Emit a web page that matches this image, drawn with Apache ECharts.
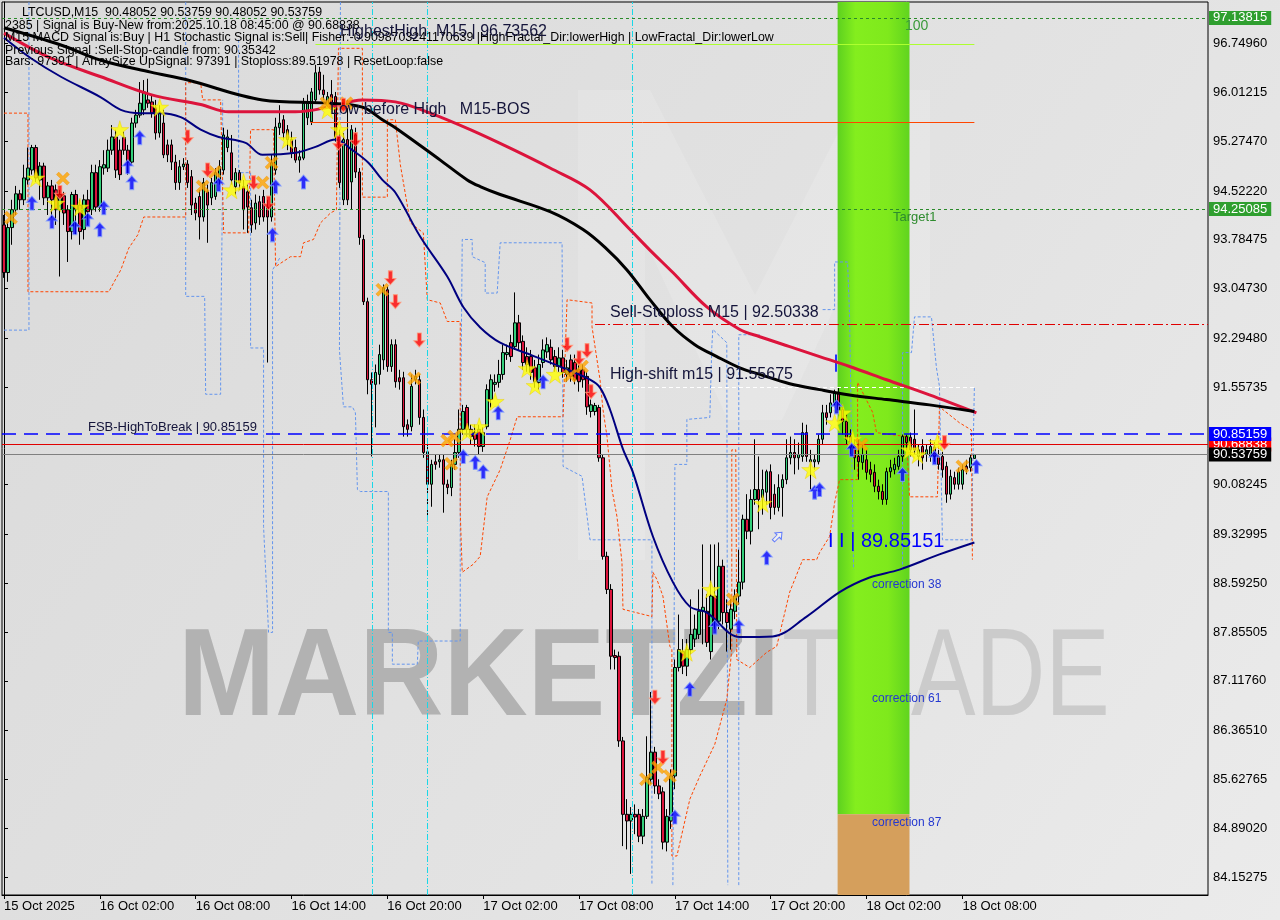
<!DOCTYPE html>
<html><head><meta charset="utf-8">
<script src="https://cdn.jsdelivr.net/npm/echarts@6/dist/echarts.min.js"></script>
<style>html,body{margin:0;padding:0;background:#e0e0e0}#c{width:1280px;height:920px}</style>
</head><body><div id="c"></div><script>
// ---------------- DATA ----------------
const SLOTS = 302;               // candle slots on the time axis (incl. empty future space)
const tickEvery = 24;            // one time label every 6 hours (24 x M15)
const timeLabels = ["15 Oct 2025","16 Oct 02:00","16 Oct 08:00","16 Oct 14:00","16 Oct 20:00","17 Oct 02:00","17 Oct 08:00","17 Oct 14:00","17 Oct 20:00","18 Oct 02:00","18 Oct 08:00"];
const priceTicks = [84.15275,84.89020,85.62765,86.36510,87.11760,87.85505,88.59250,89.32995,90.08245,91.55735,92.29480,93.04730,93.78475,94.52220,95.27470,96.01215,96.74960];
const yMin = 83.8807, yMax = 97.38;

// candles: [open, close, low, high]
const ohlc = [
[94.01,93.29,93.21,94.16],[93.29,93.97,93.15,94.06],[93.97,94.24,93.71,94.39],[94.24,94.48,94.16,94.60],[94.48,94.39,94.24,94.54],
[94.39,94.72,94.31,94.92],[94.69,94.87,94.62,95.18],[94.84,95.18,94.77,95.22],[95.18,94.72,94.66,95.22],[94.69,94.90,94.39,94.96],
[94.90,94.42,94.31,94.95],[94.42,94.60,94.16,94.66],[94.60,94.39,94.12,94.69],[94.54,94.24,94.01,94.62],[94.24,94.47,93.23,94.54],
[94.45,94.19,94.01,94.51],[94.24,93.91,93.45,94.31],[93.91,94.47,93.79,94.51],[94.47,94.24,93.86,94.54],[94.31,93.91,93.71,94.39],
[93.94,94.39,93.79,94.47],[94.39,94.21,94.01,94.54],[94.24,94.80,94.16,94.92],[94.80,94.28,94.21,94.92],[94.28,94.89,94.21,94.99],
[94.87,94.92,94.77,95.14],[94.87,95.14,94.81,95.30],[95.14,95.34,95.07,95.52],[95.34,94.84,94.72,95.45],[95.14,94.77,94.69,95.30],
[95.33,95.14,95.07,95.42],[95.14,94.96,94.77,95.22],[94.96,95.55,94.92,95.63],[95.55,95.67,95.48,95.75],[95.67,95.85,95.63,96.17],
[95.75,96.02,95.67,96.20],[95.90,95.85,95.78,96.22],[95.87,95.70,95.63,95.96],[95.78,95.40,95.30,95.90],[95.40,95.72,95.33,95.82],
[95.55,95.07,95.02,95.75],[95.22,95.07,94.96,95.30],[95.22,94.96,94.84,95.30],[94.96,94.65,94.54,95.07],[94.65,94.89,94.54,94.99],
[94.89,94.93,94.84,95.02],[94.93,94.65,94.57,94.99],[94.74,94.31,94.16,94.84],[94.34,94.19,94.08,94.42],[94.44,94.13,93.79,94.54],
[94.13,94.65,94.06,94.72],[94.51,94.31,93.74,94.62],[94.42,94.65,94.31,94.72],[94.44,94.80,94.39,94.87],[94.69,94.89,94.62,94.99],
[94.84,95.37,94.77,95.48],[95.18,95.34,95.11,95.45],[95.10,94.69,94.62,95.37],[94.59,94.80,94.47,94.87],[94.80,94.65,94.54,94.84],
[94.59,94.24,93.94,94.69],[94.51,94.28,93.89,94.62],[94.27,94.01,93.89,94.39],[94.04,94.34,93.94,94.47],[94.36,94.13,94.01,94.45],
[94.44,94.13,94.06,94.54],[94.28,94.13,91.93,94.39],[94.13,94.95,94.06,95.07],[94.84,95.49,94.77,95.63],[95.48,95.55,95.37,95.82],
[95.60,95.40,95.30,95.67],[95.45,95.30,95.14,95.52],[95.30,95.10,95.02,95.42],[95.18,94.99,94.95,95.30],[94.99,95.04,94.80,95.14],
[95.02,95.85,94.99,95.93],[95.63,95.85,95.52,95.98],[95.57,96.02,95.52,96.08],[95.90,96.31,95.84,96.43],[96.32,96.05,95.98,96.40],
[96.05,95.98,95.90,96.28],[95.82,95.95,95.78,96.02],[95.98,95.80,95.75,96.20],[95.95,95.34,95.27,96.02],[95.34,94.65,94.57,95.45],
[94.39,95.30,94.31,95.40],[95.30,94.39,94.31,95.90],[94.66,95.45,94.24,95.52],[95.37,94.81,94.72,95.48],[94.81,93.82,93.71,94.87],
[93.79,92.85,92.80,93.86],[92.85,91.67,91.45,92.91],[91.67,91.60,90.51,91.78],[91.60,91.78,90.95,91.90],[91.75,92.05,91.60,92.20],
[91.97,93.06,91.82,93.11],[93.03,91.87,91.79,93.08],[91.87,92.20,91.79,92.28],[92.20,91.64,91.55,92.28],[91.70,91.64,91.52,91.82],
[91.70,90.96,90.81,91.79],[90.99,90.92,90.81,91.07],[90.96,91.57,90.89,91.75],[91.67,91.72,91.60,91.82],[91.67,91.10,90.99,91.75],
[91.10,90.57,90.49,91.22],[90.58,90.09,89.53,90.69],[90.09,90.39,89.75,90.46],[90.43,90.39,90.31,90.54],[90.43,90.46,90.34,90.54],
[90.46,90.09,89.66,90.54],[90.09,90.04,89.94,90.16],[90.04,90.39,89.91,90.46],[90.39,90.57,90.31,90.77],[90.57,90.92,90.49,91.22],
[90.92,91.19,90.84,91.29],[91.25,90.92,90.81,91.29],[90.92,90.81,90.69,90.99],[90.87,90.77,90.66,90.99],[90.92,90.66,90.54,90.99],
[90.66,90.87,90.58,90.95],[90.96,91.52,90.92,91.60],[91.37,91.67,91.25,91.75],[91.60,91.63,91.49,91.75],[91.63,91.75,91.55,91.97],
[91.75,92.08,91.67,92.20],[92.05,92.08,91.97,92.20],[92.23,92.02,91.94,92.35],[92.17,92.53,92.12,92.99],[92.53,92.23,92.12,92.65],
[92.25,91.93,91.82,92.34],[92.02,91.90,91.79,92.16],[92.02,91.78,91.67,92.12],[91.85,91.64,91.55,91.97],[91.63,91.90,91.52,92.05],
[91.93,92.12,91.85,92.28],[92.09,92.20,92.00,92.31],[92.16,91.97,91.90,92.28],[92.02,91.87,91.79,92.12],[91.87,92.00,91.79,92.16],
[92.00,91.78,91.70,92.12],[91.75,91.85,91.64,91.97],[91.97,91.72,91.64,92.05],[91.93,91.67,91.60,92.05],[91.82,91.64,91.49,91.90],
[91.82,91.67,91.55,91.90],[91.72,91.26,91.14,91.79],[91.19,91.29,91.10,91.37],[91.19,91.28,91.13,91.32],[91.25,90.49,90.43,91.29],
[90.49,89.00,88.95,90.54],[89.00,88.50,88.43,89.07],[88.50,87.49,87.29,88.58],[87.50,87.47,87.29,87.59],[87.49,86.21,86.12,87.56],
[86.21,85.10,84.62,86.27],[85.10,85.00,84.57,85.33],[85.00,85.10,84.20,85.21],[85.10,85.06,84.80,85.25],[85.10,84.77,84.68,85.18],
[84.77,85.07,84.65,85.18],[85.07,85.66,85.03,86.28],[85.63,86.04,85.56,86.95],[86.04,85.53,85.41,86.12],[85.53,85.41,85.33,85.63],
[85.44,84.68,84.57,85.51],[84.68,85.07,84.54,85.18],[85.00,85.68,84.88,85.78],[85.68,87.32,85.48,87.44],[87.32,87.59,87.26,88.12],
[87.56,87.34,87.22,87.75],[87.34,87.59,87.19,87.75],[87.59,87.82,87.52,88.35],[87.75,87.90,87.63,88.12],[87.82,88.17,87.75,88.50],
[88.17,88.23,87.67,89.18],[88.17,87.70,87.63,88.43],[87.56,88.40,87.44,89.18],[88.40,88.02,87.90,89.18],[88.02,88.85,87.90,89.21],
[88.85,88.15,87.97,88.95],[88.15,88.00,87.56,88.35],[87.90,88.20,87.59,88.35],[88.17,88.40,88.05,88.50],[88.40,88.61,88.27,89.10],
[88.61,89.56,88.50,89.63],[89.56,89.38,89.26,89.94],[89.38,89.86,89.18,90.01],[89.86,90.01,89.78,90.77],[90.01,89.86,89.41,90.51],
[89.89,90.01,89.63,90.31],[89.97,90.28,89.78,90.31],[90.28,89.74,89.56,90.39],[89.94,89.74,89.63,90.09],[89.74,90.04,89.68,90.24],
[90.04,90.16,89.60,90.24],[90.16,90.49,90.09,90.77],[90.49,90.57,90.39,90.81],[90.57,90.49,90.24,90.77],[90.49,90.54,90.31,90.72],
[90.51,90.87,90.43,91.02],[90.87,90.51,90.43,90.99],[90.43,90.46,90.01,90.61],[90.43,90.46,90.31,90.54],[90.43,90.77,90.39,90.84],
[90.77,91.17,90.69,91.29],[91.17,91.10,90.99,91.29],[91.17,91.32,91.10,91.45],[91.32,91.48,91.25,91.52],[91.48,91.22,91.14,91.55],
[91.22,91.04,90.84,91.29],[91.04,90.77,90.69,91.14],[90.81,90.65,90.54,90.92],[90.66,90.49,90.31,90.77],[90.51,90.43,90.16,90.77],
[90.42,90.54,90.31,90.69],[90.46,90.27,90.16,90.61],[90.31,90.24,90.12,90.43],[90.27,90.06,89.97,90.39],[90.06,89.98,89.86,90.16],
[89.98,89.86,89.78,90.09],[89.86,90.28,89.78,90.34],[90.28,90.34,90.19,90.46],[90.31,90.39,90.24,90.49],[90.36,90.51,90.31,90.61],
[90.51,90.81,90.43,90.84],[90.81,90.72,90.61,90.84],[90.80,90.61,90.51,90.87],[90.77,90.61,90.54,91.22],[90.51,90.61,90.36,90.69],
[90.66,90.49,90.31,90.77],[90.54,90.61,90.43,90.69],[90.51,90.66,90.43,90.77],[90.65,90.51,90.43,90.73],[90.51,90.39,90.31,90.61],
[90.51,90.31,90.19,90.58],[90.36,89.94,89.81,90.43],[89.94,90.21,89.86,90.31],[90.19,90.09,90.01,90.28],[90.09,90.28,90.01,90.34],
[90.09,90.31,90.01,90.39],[90.36,90.31,90.24,90.46],[90.34,90.49,90.28,90.54],[90.48052,90.53759,90.48052,90.53759]
];

// moving averages: [candle index, price]
const maBlack = [[0,96.99],[14.25,96.73],[24.25,96.50],[36.75,96.32],[46,96.20],[64.75,95.90],[81.25,95.85],[89.75,95.79],[94.75,95.60],[98,95.48],[109.25,94.99],[116,94.69],[119.25,94.59],[124.25,94.47],[136.75,94.21],[145,93.94],[150.5,93.67],[156,93.33],[161.75,92.88],[167.5,92.47],[173,92.20],[178.5,92.02],[184.25,91.85],[189.25,91.75],[196.75,91.61],[204.25,91.52],[211.75,91.44],[221,91.37],[231.75,91.29],[243,91.19]];
const maRed = [[0,96.91],[11.75,96.53],[24.25,96.25],[36.75,95.98],[49.25,95.83],[56.25,95.72],[73,95.72],[81.25,95.79],[89.75,95.90],[98,95.87],[106.75,95.70],[116.75,95.45],[126.75,95.17],[136.75,94.87],[146.75,94.54],[156.75,93.94],[161.75,93.63],[167.5,93.29],[176,92.77],[184.25,92.43],[189.25,92.32],[196.75,92.17],[204.25,92.02],[211.75,91.87],[221,91.67],[231.75,91.44],[243.5,91.17]];
const maNavy = [[0,96.84],[6.75,96.53],[14.25,96.25],[24.25,95.94],[29.25,95.75],[34.25,95.70],[39.25,95.70],[44.25,95.64],[49.25,95.45],[53.75,95.34],[60.5,95.25],[64.75,95.07],[73,95.10],[78,95.19],[83,95.30],[87.25,95.14],[91.25,94.95],[94.75,94.69],[98,94.50],[104.25,93.83],[111,93.23],[115,92.77],[119.25,92.46],[124.25,92.23],[131.75,92.05],[140,91.85],[146.75,91.67],[149.25,91.55],[151.75,91.22],[155,90.62],[157.5,90.27],[162.5,89.30],[167.5,88.61],[171.75,88.24],[176,88.15],[184.25,87.78],[192.5,87.79],[201,88.09],[209.25,88.46],[216.75,88.68],[224.25,88.80],[234.25,89.03],[243,89.21]];

// stepped channel lines (orange stop line, blue dashed channel), null = break
const stopLine = [[0,95.70],[6,95.70],[6,93.00],[26.25,93.00],[27.5,93.14],[29.25,93.33],[31.25,93.66],[33.5,93.86],[35,94.13],[45.5,94.13],[45.5,96.16],[49.25,96.16],[49.75,95.90],[54.25,95.90],[55,93.89],[61.25,93.89],[61.75,95.45],[67.5,95.45],[68,93.38],[71.75,93.53],[74.25,93.53],[75,93.74],[77.5,93.79],[79.25,94.04],[81.75,94.19],[83.25,94.24],[83.75,96.68],[89.75,96.68],[89.75,94.43],[96,94.43],[96,95.60],[98,95.60],[99.25,94.92],[101.75,94.04],[105,93.89],[106,92.88],[109.25,92.83],[111,92.55],[114.25,92.55],[114.25,89.66],[114.75,88.76],[117.5,88.88],[119.25,89.00],[121,89.90],[124.25,90.31],[126.75,90.76],[128.5,91.11],[140,91.11],[141,92.88],[147.25,92.83],[147.25,92.47],[149.25,91.67],[150,91.22],[151,90.81],[152.25,90.01],[153.5,89.60],[154.75,88.91],[155,88.20],[162.25,88.09],[162.5,88.76],[163.5,88.65],[165,88.40],[166.75,87.64],[167.25,87.59],[167.25,84.47],[168.5,84.47],[171.75,85.33],[174.25,85.68],[178,86.16],[181,86.84],[182.25,87.59],[182.25,90.61],[183.25,90.61],[183.5,87.44],[186.75,87.32],[191,87.55],[193.5,87.64],[196.75,88.46],[200,88.95],[203.5,88.95],[204.25,89.06],[206.75,89.30],[208,89.81],[209.25,90.16],[213.75,90.16],[213.75,91.63],[215.5,91.42],[217.5,91.18],[218.5,90.87],[226,90.81],[226.75,89.90],[233.75,89.90],[234.25,91.26],[239.25,91.02],[242.25,90.91],[242.5,88.95]];
const channelLine = [[0,92.42],[6.25,92.42],[6.25,97.38],null,
[45.5,97.38],[45.5,92.93],[50.25,92.93],[50.5,91.45],[54.25,91.45],[54.25,92.12],[54.75,94.69],[54.75,95.90],null,
[58.75,96.81],[58.75,94.80],[61.75,94.80],[61.75,92.15],[65,92.15],[65,89.45],[66.25,87.85],[67.25,87.85],[67.25,93.33],[69.25,93.53],null,
[84.25,97.38],[84,92.12],[85,91.26],[87.25,91.26],[88,91.17],[88.5,90.01],[89.25,89.98],[96.25,89.98],[96.25,87.85],[97.25,87.85],[97.25,87.37],[103.5,87.37],[103.75,87.72],[114.25,87.72],[114.25,90.27],[114.75,90.27],[114.75,93.79],[117.25,93.79],[117.25,93.53],[120.5,93.44],[120.5,92.98],[123.5,92.98],[124.25,93.74],[139.75,93.74],[140,90.36],[144.75,90.21],[146.75,89.25],[162.25,89.25],[162.25,84.03],null,
[167.5,84.03],[168,90.39],[171,90.39],[171,91.07],[176.75,91.10],[177.25,92.17],[177.5,92.43],[181,92.23],[181.25,84.03],null,
[184,84.03],[184,92.35],[189.25,92.35],null,
[205,92.73],[208,92.73],[208,93.45],[211.25,93.45],[211.75,92.62],[212.75,88.80],null,
[225,88.80],[225,92.08],[227.25,92.08],[228,92.62],[232.25,92.62],[233.5,91.85],[234.25,91.57],[235,89.25],[242.25,89.25],[243,91.57]];
const sessionLines = [92.25, 106, 157.25];   // cyan vertical separators (candle index)

// signal markers [candle index, price]
const stars = [[8,94.72],[13,94.34],[19,94.28],[29,95.45],[39,95.79],[57,94.54],[60,94.65],[71,95.30],[81,95.75],[84,95.45],[116,90.88],[119,90.96],[123,91.34],[131,91.84],[133,91.58],[138,91.75],[171,87.55],[177,88.50],[190,89.80],[202,90.31],[208,91.02],[210,91.17],[212.5,90.77],[226.75,90.61],[228.75,90.54],[233.75,90.72]];
const upArrows = [[7,94.34],[12,94.06],[17.75,93.97],[21,94.09],[24,93.94],[25,94.27],[31,94.89],[32,94.65],[34,95.33],[53.75,94.62],[67.25,93.86],[68,94.59],[75,94.66],[115,90.51],[118,90.42],[120,90.28],[123.75,91.17],[135,91.64],[168,85.06],[171.75,86.99],[178,87.93],[184,87.94],[191,88.98],[203,89.97],[204.25,90.01],[208.5,91.26],[212.25,90.61],[225,90.24],[233,90.49],[243.5,90.36]];
const downArrows = [[14,94.50],[46,95.34],[51,94.84],[62.5,94.65],[66.25,94.34],[83.75,95.25],[85,95.82],[88,95.30],[96.75,93.21],[98,92.85],[104,92.27],[141,92.20],[144,92.00],[146,92.11],[147,91.49],[163,86.87],[165,85.96],[235.5,90.72]];
const crosses = [[1.75,94.12],[14.75,94.71],[49.75,94.59],[52.75,94.81],[64.75,94.65],[67,94.95],[80.75,95.85],[85.75,95.85],[94.75,93.03],[102.75,91.69],[111,90.75],[112.75,90.81],[112,90.40],[141.75,91.73],[144.75,91.87],[160.75,85.63],[163.75,85.81],[166.75,85.68],[182.5,88.35],[214.75,90.69],[240,90.36]];
const hollowArrow = [[193.75,89.30]];

// levels
const lvlTop = 97.13815, lvlHighestHigh = 96.73562, lvlLowBeforeHigh = 95.56, lvlTarget1 = 94.25085;
const lvlSellStop = 92.50338, lvlHighShift = 91.55675, lvlFsb = 90.85159, lvlSignal = 90.68838, lvlLast = 90.53759;
const bandX = [208.75, 226.75], bandSplit = 85.10;
const tickMark = [208.25, 92.05, 91.79];

// ---------------- CHART ----------------
const FONT = '"Liberation Sans", Arial, sans-serif';
const HDR = '12.4px ' + FONT;
const chart = echarts.init(document.getElementById('c'), null, {renderer:'canvas'});
const cats = Array.from({length:SLOTS}, (_, i) => 'c' + i);
const showTick = (i) => i % tickEvery === 0 && i / tickEvery < timeLabels.length;

const P_STAR = 'path://M50,0 L61,35 L98,35 L68,57 L79,91 L50,70 L21,91 L32,57 L2,35 L39,35 Z';
const P_UP = 'path://M50,0 L100,45 L68,45 L68,100 L32,100 L32,45 L0,45 Z';
const P_DOWN = 'path://M32,0 L68,0 L68,55 L100,55 L50,100 L0,55 L32,55 Z';
const P_X = 'path://M0,18 L18,0 L50,32 L82,0 L100,18 L68,50 L100,82 L82,100 L50,68 L18,100 L0,82 L32,50 Z';

function fullLine(v, color, type, width, box) {
  const o = {yAxis: v, lineStyle: {color, type, width}, label: {show: false}};
  if (box) o.label = {show: true, position: 'end', distance: 1, formatter: v.toFixed(5), color: '#fff',
    backgroundColor: box, padding: [1, 4, 0, 4], fontSize: 13, fontFamily: FONT};
  return o;
}
function partLine(x1, x2, v, color, type, width) {
  return [{coord: [x1, v], lineStyle: {color, type, width}, label: {show: false}}, {coord: [x2, v]}];
}

const option = {
  animation: false,
  backgroundColor: {type:'linear', x:0, y:0, x2:1, y2:1, colorStops:[{offset:0,color:'#dadada'},{offset:0.6,color:'#e3e3e3'},{offset:1,color:'#ebebeb'}]},
  grid: {left: 2, top: 2, right: 72, bottom: 25, show: true, borderColor: '#000', borderWidth: 1, backgroundColor: 'transparent'},
  xAxis: [
    {type: 'category', data: cats, boundaryGap: true,
      axisLine: {show: true, lineStyle: {color: '#000'}},
      axisTick: {show: true, alignWithLabel: true, interval: (i) => showTick(i), length: 4, lineStyle: {color: '#000'}},
      axisLabel: {show: true, interval: (i) => showTick(i), formatter: (v, i) => timeLabels[i / tickEvery] || '',
        align: 'left', margin: 5, color: '#000', fontSize: 13, fontFamily: FONT},
      splitLine: {show: false}},
    {type: 'value', min: -0.5, max: SLOTS - 0.5, show: false}
  ],
  yAxis: {type: 'value', position: 'right', min: yMin, max: yMax, scale: true,
    splitLine: {show: false},
    axisLine: {show: true, lineStyle: {color: '#000'}},
    axisTick: {show: true, customValues: priceTicks, length: 4, lineStyle: {color: '#000'}},
    axisLabel: {customValues: priceTicks, formatter: (v) => v.toFixed(5), color: '#000', fontSize: 13, fontFamily: FONT, margin: 5}},
  graphic: {elements: [
    {type: 'polygon', z: 0, silent: true, shape: {points: [[578,90],[650,90],[755,295],[860,90],[930,90],[930,560],[866,560],[866,240],[782,420],[728,420],[645,240],[645,560],[578,560]]},
      style: {fill: 'rgba(255,255,255,0.14)'}},
    {type: 'text', z: 0, silent: true, x: 178, y: 681, scaleX: 0.94, style: {text: 'MARKETZI', font: 'bold 124px ' + FONT, fill: '#b2b2b2', verticalAlign: 'middle'}},
    {type: 'text', z: 0, silent: true, x: 782, y: 681, scaleX: 0.78, style: {text: 'TRADE', font: '124px ' + FONT, fill: '#cbcbcb', verticalAlign: 'middle'}},
    {type: 'text', z: 50, x: 22, y: 13, style: {text: 'LTCUSD,M15  90.48052 90.53759 90.48052 90.53759', font: HDR, fill: '#000', verticalAlign: 'middle'}},
    {type: 'text', z: 50, x: 5, y: 26, style: {text: '2385 | Signal is Buy-New from:2025.10.18 08:45:00 @ 90.68838', font: HDR, fill: '#000', verticalAlign: 'middle'}},
    {type: 'text', z: 50, x: 5, y: 38, style: {text: 'M15 MACD Signal is:Buy | H1 Stochastic Signal is:Sell| Fisher:-0.9098703241170639 |HighFractal_Dir:lowerHigh | LowFractal_Dir:lowerLow', font: HDR, fill: '#000', verticalAlign: 'middle'}},
    {type: 'text', z: 50, x: 5, y: 51, style: {text: 'Previous Signal :Sell-Stop-candle from: 90.35342', font: HDR, fill: '#000', verticalAlign: 'middle'}},
    {type: 'text', z: 50, x: 5, y: 62, style: {text: 'Bars: 97391 | ArraySize UpSignal: 97391 | Stoploss:89.51978 | ResetLoop:false', font: HDR, fill: '#000', verticalAlign: 'middle'}},
    {type: 'text', z: 50, x: 340, y: 32, style: {text: 'HighestHigh  M15 | 96.73562', font: '16px ' + FONT, fill: '#14143a', verticalAlign: 'middle'}},
    {type: 'text', z: 50, x: 330, y: 110, style: {text: 'Low before High   M15-BOS', font: '16px ' + FONT, fill: '#14143a', verticalAlign: 'middle'}},
    {type: 'text', z: 50, x: 610, y: 313, style: {text: 'Sell-Stoploss M15 | 92.50338', font: '16px ' + FONT, fill: '#14143a', verticalAlign: 'middle'}},
    {type: 'text', z: 50, x: 610, y: 375, style: {text: 'High-shift m15 | 91.55675', font: '16px ' + FONT, fill: '#14143a', verticalAlign: 'middle'}},
    {type: 'text', z: 50, x: 88, y: 427, style: {text: 'FSB-HighToBreak | 90.85159', font: '13px ' + FONT, fill: '#14143a', verticalAlign: 'middle'}},
    {type: 'text', z: 50, x: 828, y: 541, style: {text: 'I I | 89.85151', font: '20px ' + FONT, fill: '#0000ff', verticalAlign: 'middle'}},
    {type: 'text', z: 50, x: 905, y: 26, style: {text: '100', font: '14px ' + FONT, fill: '#3a9a3a', verticalAlign: 'middle'}},
    {type: 'text', z: 50, x: 893, y: 217, style: {text: 'Target1', font: '13px ' + FONT, fill: '#2e8b2e', verticalAlign: 'middle'}},
    {type: 'text', z: 50, x: 872, y: 585, style: {text: 'correction 38', font: '12px ' + FONT, fill: '#2438d0', verticalAlign: 'middle'}},
    {type: 'text', z: 50, x: 872, y: 699, style: {text: 'correction 61', font: '12px ' + FONT, fill: '#2438d0', verticalAlign: 'middle'}},
    {type: 'text', z: 50, x: 872, y: 823, style: {text: 'correction 87', font: '12px ' + FONT, fill: '#2438d0', verticalAlign: 'middle'}}
  ]},
  series: [
    {type: 'line', xAxisIndex: 1, data: [], z: 1, silent: true,
      markArea: {silent: true, data: [
        [{coord: [bandX[0], bandSplit], itemStyle: {color: {type:'linear', x:0, y:0, x2:1, y2:0, colorStops:[{offset:0,color:'#5dd11f'},{offset:0.25,color:'#84ee1e'},{offset:0.7,color:'#7fe91c'},{offset:1,color:'#60d41f'}]}}}, {coord: [bandX[1], yMax]}],
        [{coord: [bandX[0], yMin], itemStyle: {color: '#d59f5c'}}, {coord: [bandX[1], bandSplit]}]
      ]}},
    {type: 'line', xAxisIndex: 1, data: [], z: 2, silent: true,
      markLine: {symbol: 'none', silent: true, animation: false, data: [
        ...sessionLines.map(x => ({xAxis: x, lineStyle: {color: '#18d8e8', type: [6, 2, 1, 2], width: 1}, label: {show: false}})),
        fullLine(lvlTop, '#2a8a2a', [3, 3], 1, '#2f9f2f'),
        fullLine(lvlTarget1, '#2a8a2a', [3, 3], 1, '#2f9f2f'),
        fullLine(lvlSignal, '#e00000', 'solid', 1, '#ff0000'),
        fullLine(lvlFsb, '#0000ff', [14, 8], 1.5, '#0000ff'),
        fullLine(lvlLast, '#808080', 'solid', 1, '#000000'),
        partLine(78, 243, lvlHighestHigh, '#adff2f', 'solid', 1),
        partLine(76.75, 243, lvlLowBeforeHigh, '#ff4500', 'solid', 1),
        partLine(148, SLOTS - 0.5, lvlSellStop, '#e00000', [10, 3, 2, 3], 1),
        partLine(149, 243, lvlHighShift, '#ffffff', [4, 3], 1),
        [{coord: [tickMark[0], tickMark[1]], lineStyle: {color: '#2233ff', type: 'solid', width: 2}, label: {show: false}}, {coord: [tickMark[0], tickMark[2]]}]
      ]}},
    {type: 'line', xAxisIndex: 1, data: channelLine, z: 3, symbol: 'none', connectNulls: false, silent: true,
      lineStyle: {color: '#6495ed', width: 1, type: [3, 2]}},
    {type: 'line', xAxisIndex: 1, data: stopLine, z: 3, symbol: 'none', silent: true,
      lineStyle: {color: '#ff4500', width: 1, type: [3, 2]}},
    {type: 'candlestick', xAxisIndex: 0, data: ohlc, z: 4, barWidth: 3,
      itemStyle: {color: '#33cf7a', color0: '#dc143c', borderColor: '#000', borderColor0: '#000', borderWidth: 1}},
    {type: 'line', xAxisIndex: 1, data: maRed, z: 5, symbol: 'none', smooth: 0.35, silent: true, lineStyle: {color: '#dc143c', width: 3}},
    {type: 'line', xAxisIndex: 1, data: maBlack, z: 5, symbol: 'none', smooth: 0.35, silent: true, lineStyle: {color: '#000000', width: 3}},
    {type: 'line', xAxisIndex: 1, data: maNavy, z: 5, symbol: 'none', smooth: 0.35, silent: true, lineStyle: {color: '#000080', width: 2}},
    {type: 'scatter', xAxisIndex: 1, data: stars, z: 6, symbol: P_STAR, symbolSize: 18, silent: true,
      itemStyle: {color: '#ffff00', borderColor: '#e8c800', borderWidth: 0.5}},
    {type: 'scatter', xAxisIndex: 1, data: crosses, z: 6, symbol: P_X, symbolSize: 13, silent: true,
      itemStyle: {color: '#ffa500', borderColor: '#f08c00', borderWidth: 0.5}},
    {type: 'scatter', xAxisIndex: 1, data: upArrows, z: 7, symbol: P_UP, symbolSize: [11, 14], silent: true,
      itemStyle: {color: '#0000ff', borderColor: '#7f9cff', borderWidth: 1}},
    {type: 'scatter', xAxisIndex: 1, data: downArrows, z: 7, symbol: P_DOWN, symbolSize: [11, 14], silent: true,
      itemStyle: {color: '#ff0000', borderColor: '#ff9a7a', borderWidth: 1}},
    {type: 'scatter', xAxisIndex: 1, data: hollowArrow, z: 7, symbol: P_UP, symbolSize: [9, 12], symbolRotate: -45, silent: true,
      itemStyle: {color: 'rgba(255,255,255,0.6)', borderColor: '#4060ff', borderWidth: 1}}
  ]
};
chart.setOption(option);
</script></body></html>
